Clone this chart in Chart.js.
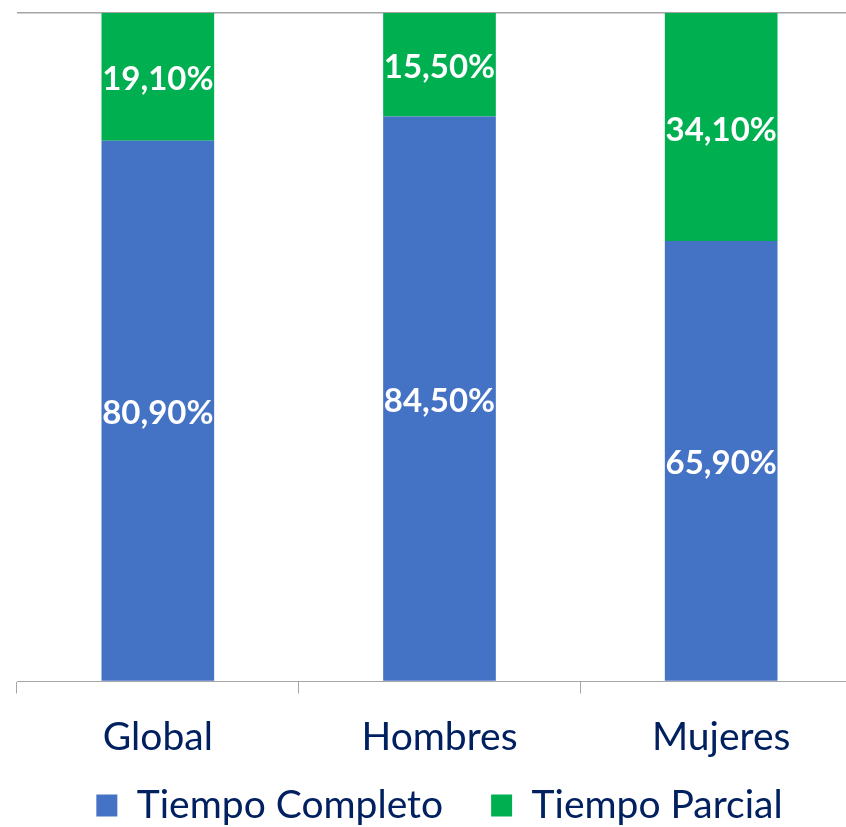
<!DOCTYPE html>
<html>
<head>
<meta charset="utf-8">
<script src="https://cdn.jsdelivr.net/npm/chart.js@4.4.0/dist/chart.umd.min.js"></script>
<style>
html,body{margin:0;padding:0;background:#fff;overflow:hidden;}
#wrap{position:absolute;left:0;top:0;width:891px;height:835px;}
</style>
</head>
<body>
<div id="wrap"><canvas id="c"></canvas></div>
<script>
const categories = ["Global", "Hombres", "Mujeres"];
const seriesNames = ["Tiempo Completo", "Tiempo Parcial"];
const tiempoCompleto = [80.9, 84.5, 65.9];
const tiempoParcial = [19.1, 15.5, 34.1];
const seriesColors = ["#4472C4", "#00B050"];
const FONT = "Lato";

const labelPlugin = {
  id: 'segLabels',
  afterDatasetsDraw(chart) {
    const ctx = chart.ctx;
    ctx.save();
    ctx.fillStyle = '#FFFFFF';
    ctx.font = 'bold 33px ' + FONT;
    ctx.textAlign = 'center';
    ctx.textBaseline = 'middle';
    chart.data.datasets.forEach((ds, di) => {
      const meta = chart.getDatasetMeta(di);
      meta.data.forEach((el, i) => {
        const v = ds.data[i];
        const y = (el.y + el.base) / 2 + 3;
        ctx.fillText(v.toFixed(2).replace('.', ',') + '%', el.x, y);
      });
    });
    ctx.restore();
  }
};

new Chart(document.getElementById('c'), {
  type: 'bar',
  data: {
    labels: categories,
    datasets: [
      { label: seriesNames[0], data: tiempoCompleto, backgroundColor: seriesColors[0], categoryPercentage: 1, barPercentage: 0.4 },
      { label: seriesNames[1], data: tiempoParcial, backgroundColor: seriesColors[1], categoryPercentage: 1, barPercentage: 0.4 }
    ]
  },
  options: {
    responsive: true,
    maintainAspectRatio: false,
    animation: false,
    devicePixelRatio: 1,
    layout: { padding: { left: 17, right: 29, top: 13, bottom: 0 } },
    scales: {
      x: {
        stacked: true,
        offset: true,
        afterFit: (scale) => { scale.height = 56.5; },
        grid: { offset: true, drawOnChartArea: false, drawTicks: true, tickLength: 12, color: '#A6A6A6', lineWidth: 1 },
        border: { display: true, color: '#A6A6A6', width: 1 },
        ticks: { color: '#002060', font: { family: FONT, size: 39 }, padding: -79, mirror: true }
      },
      y: {
        stacked: true,
        min: 0, max: 100,
        ticks: { display: false, stepSize: 100 },
        border: { display: false },
        grid: { drawTicks: false, color: (c) => c.tick && c.tick.value === 100 ? '#A6A6A6' : 'rgba(0,0,0,0)', lineWidth: 1.5 }
      }
    },
    plugins: {
      legend: {
        position: 'bottom',
        labels: { color: '#002060', font: { family: FONT, size: 39 }, boxWidth: 21, boxHeight: 22, padding: 48 }
      },
      tooltip: { enabled: false }
    }
  },
  plugins: [labelPlugin]
});
</script>
</body>
</html>
